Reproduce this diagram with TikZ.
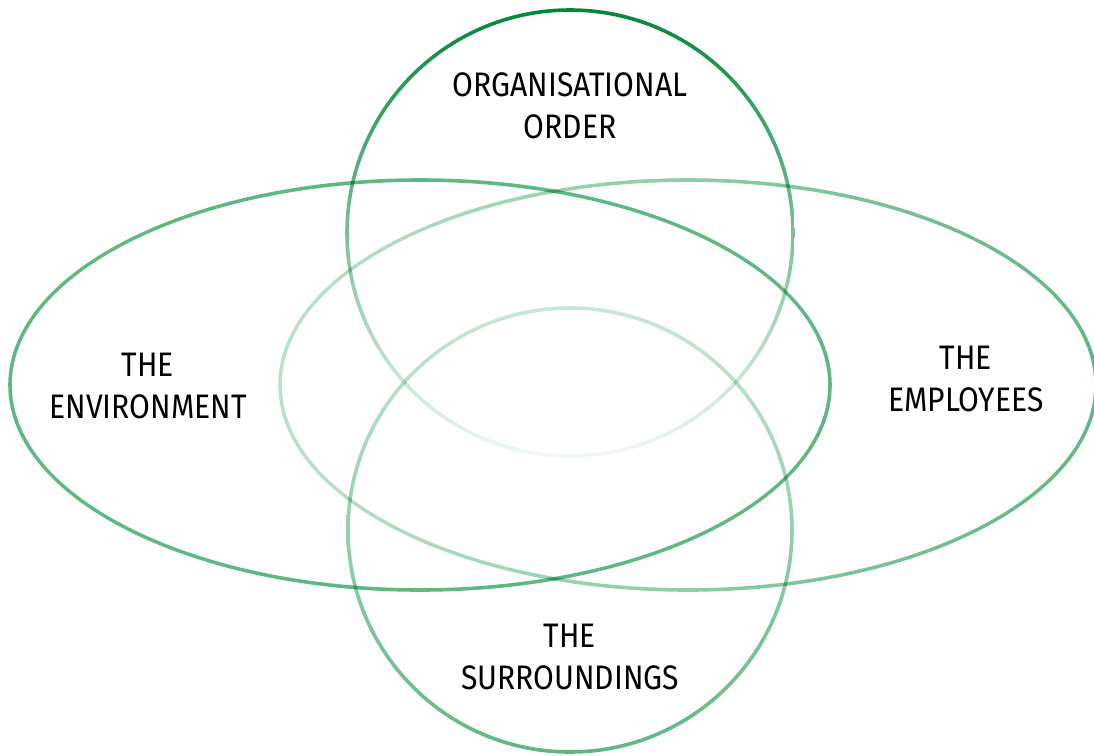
\documentclass[tikz,border=0pt]{standalone}
\usepackage{fontspec}
\setmainfont{Fira Sans}[FakeStretch=0.885]
\definecolor{venngreen}{HTML}{5DB882}
\definecolor{venndark}{HTML}{00873A}
\begin{document}
\begin{tikzpicture}
  [x=1pt,y=-1pt,
   ring/.style={even odd rule,blend mode=multiply},
   caption/.style={align=center,font=\fontsize{34}{42}\selectfont,text=black}]
  \useasboundingbox (0,0) rectangle (1094,755);
  % rings drawn as thin shaded bands
  \shade [ring,left color=venngreen!42!white,right color=venngreen]
    (688,385) ellipse [x radius=409.8,y radius=206.8] (688,385) ellipse [x radius=406.2,y radius=203.2];
  \shade [ring,top color=venngreen!33!white,bottom color=venngreen]
    (570,530) circle [radius=223.8] (570,530) circle [radius=220.2];
  \shade [ring,top color=venndark,bottom color=venndark!5!white]
    (570,233) circle [radius=224.8] (570,233) circle [radius=221.2];
  \fill [ring,venngreen]
    (420,385) ellipse [x radius=411.8,y radius=206.8] (420,385) ellipse [x radius=408.2,y radius=203.2];

  \node [caption] (order) at (570,106) {ORGANISATIONAL\\ORDER};
  \node [caption] (environment) at (148,386) {THE\\ENVIRONMENT};
  \node [caption] (employees) at (966,379) {THE\\EMPLOYEES};
  \node [caption] (surroundings) at (570,657) {THE\\SURROUNDINGS};

\end{tikzpicture}
\end{document}
